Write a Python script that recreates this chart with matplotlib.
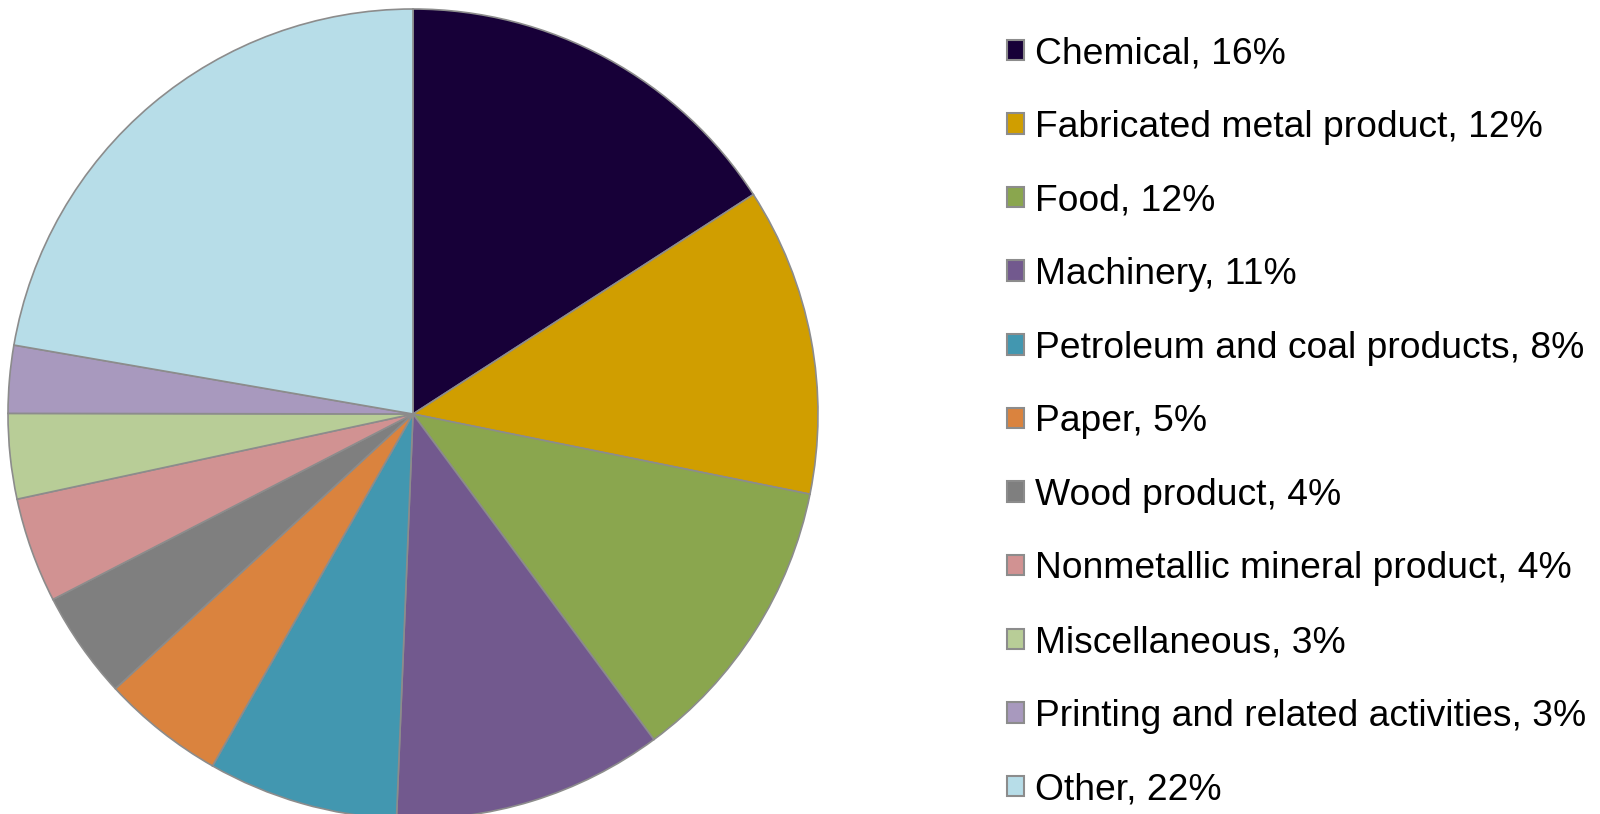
import matplotlib
matplotlib.use("Agg")
import matplotlib.pyplot as plt

categories = ["Chemical", "Fabricated metal product", "Food", "Machinery",
              "Petroleum and coal products", "Paper", "Wood product",
              "Nonmetallic mineral product", "Miscellaneous",
              "Printing and related activities", "Other"]
values = [15.9, 12.3, 11.7, 10.8, 7.6, 4.9, 4.3, 4.2, 3.4, 2.7, 22.3]
pct_labels = ["16%", "12%", "12%", "11%", "8%", "5%", "4%", "4%", "3%", "3%", "22%"]
colors = ["#170038", "#D09E00", "#8AA64E", "#72598E", "#4297B0", "#DA833E",
          "#7F7F7F", "#D19292", "#B8CD97", "#A899BE", "#B7DDE8"]

plt.rcParams['font.family'] = ['Liberation Sans', 'DejaVu Sans']

W, H = 1600, 814
fig = plt.figure(figsize=(W / 100, H / 100), dpi=100)
cx, cy, r = 413, 414, 405
ax = fig.add_axes([(cx - r) / W, (H - cy - r) / H, 2 * r / W, 2 * r / H])
wedges, _ = ax.pie(values, colors=colors, startangle=90, counterclock=False,
                   wedgeprops=dict(edgecolor="#8C8C8C", linewidth=1.2))
ax.set_xlim(-1, 1)
ax.set_ylim(-1, 1)
ax.set_aspect('equal')
for w in wedges:
    w.set_clip_on(False)

labels = [f"{c}, {p}" for c, p in zip(categories, pct_labels)]
leg = fig.legend(wedges, labels, loc="upper left",
                 bbox_to_anchor=(1007 / W, 1 - 36 / H),
                 frameon=False, fontsize=26.8, handlelength=0.47, handleheight=0.47,
                 handletextpad=0.28, labelspacing=1.038, borderpad=0, borderaxespad=0)
for h in leg.legend_handles:
    h.set_edgecolor("#8C8C8C")
    h.set_linewidth(1.5)

fig.savefig("out.png", dpi=100)
